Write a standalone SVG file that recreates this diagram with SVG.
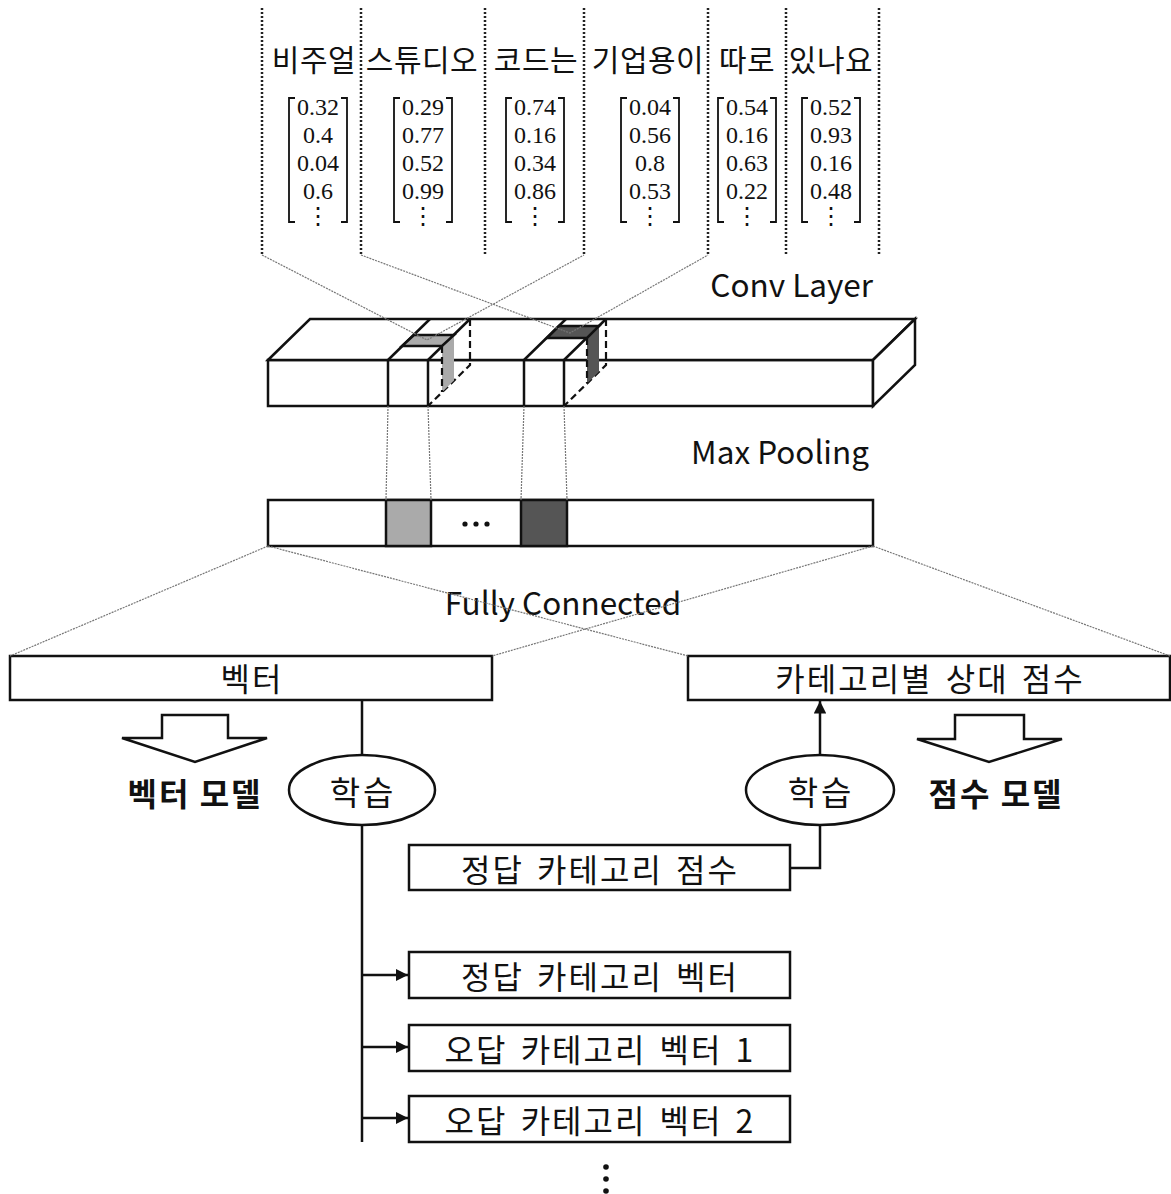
<svg xmlns="http://www.w3.org/2000/svg" width="1171" height="1194" viewBox="0 0 1171 1194">
<style>
.t{font-family:"Noto Sans CJK KR","Noto Sans",sans-serif;fill:#111}
.k{font-family:"Noto Sans CJK KR","Noto Sans",sans-serif;fill:#111;font-size:32px;letter-spacing:2px;word-spacing:4px;text-anchor:middle}
.e{font-family:"Noto Sans CJK KR","Noto Sans",sans-serif;fill:#111;font-size:31.5px}
.w{font-family:"Noto Sans CJK KR","Noto Sans",sans-serif;fill:#111;font-size:30px;letter-spacing:0.5px;text-anchor:middle}
.n{font-family:"Liberation Serif","DejaVu Serif",serif;font-size:24px;fill:#111;text-anchor:middle}
.box{fill:#fff;stroke:#111;stroke-width:2.5}
.ln{fill:none;stroke:#111;stroke-width:2.5}
.dash{fill:none;stroke:#111;stroke-width:2.2;stroke-dasharray:7 4}
.vdot{fill:none;stroke:#222;stroke-width:2.5;stroke-dasharray:2 2}
.thin{fill:none;stroke:#777;stroke-width:1.2;stroke-dasharray:2 1}
.br{fill:none;stroke:#111;stroke-width:1.8}
</style>
<defs>
<marker id="ah" viewBox="0 0 10 10" refX="10" refY="5" markerWidth="5" markerHeight="5" orient="auto"><path d="M0,0 L10,5 L0,10 z" fill="#111"/></marker>
</defs>

<g id="words">
<text class="w" x="314" y="71">비주얼</text>
<text class="w" x="422" y="71">스튜디오</text>
<text class="w" x="536" y="71">코드는</text>
<text class="w" x="648" y="71">기업용이</text>
<text class="w" x="747" y="71">따로</text>
<text class="w" x="831" y="71">있나요</text>
</g>

<g id="vectors">
<g transform="translate(318,0)">
<path class="br" d="M-23,98 H-29 V222 H-23 M23,98 H29 V222 H23"/>
<text class="n" x="0" y="115">0.32</text><text class="n" x="0" y="143">0.4</text><text class="n" x="0" y="171">0.04</text><text class="n" x="0" y="199">0.6</text><text class="n" x="0" y="224">⋮</text>
</g>
<g transform="translate(423,0)">
<path class="br" d="M-23,98 H-29 V222 H-23 M23,98 H29 V222 H23"/>
<text class="n" x="0" y="115">0.29</text><text class="n" x="0" y="143">0.77</text><text class="n" x="0" y="171">0.52</text><text class="n" x="0" y="199">0.99</text><text class="n" x="0" y="224">⋮</text>
</g>
<g transform="translate(535,0)">
<path class="br" d="M-23,98 H-29 V222 H-23 M23,98 H29 V222 H23"/>
<text class="n" x="0" y="115">0.74</text><text class="n" x="0" y="143">0.16</text><text class="n" x="0" y="171">0.34</text><text class="n" x="0" y="199">0.86</text><text class="n" x="0" y="224">⋮</text>
</g>
<g transform="translate(650,0)">
<path class="br" d="M-23,98 H-29 V222 H-23 M23,98 H29 V222 H23"/>
<text class="n" x="0" y="115">0.04</text><text class="n" x="0" y="143">0.56</text><text class="n" x="0" y="171">0.8</text><text class="n" x="0" y="199">0.53</text><text class="n" x="0" y="224">⋮</text>
</g>
<g transform="translate(747,0)">
<path class="br" d="M-23,98 H-29 V222 H-23 M23,98 H29 V222 H23"/>
<text class="n" x="0" y="115">0.54</text><text class="n" x="0" y="143">0.16</text><text class="n" x="0" y="171">0.63</text><text class="n" x="0" y="199">0.22</text><text class="n" x="0" y="224">⋮</text>
</g>
<g transform="translate(831,0)">
<path class="br" d="M-23,98 H-29 V222 H-23 M23,98 H29 V222 H23"/>
<text class="n" x="0" y="115">0.52</text><text class="n" x="0" y="143">0.93</text><text class="n" x="0" y="171">0.16</text><text class="n" x="0" y="199">0.48</text><text class="n" x="0" y="224">⋮</text>
</g>
</g>

<g id="separators">
<path class="vdot" d="M262,8 V255 M361,8 V255 M485,8 V255 M584,8 V255 M708,8 V255 M786,8 V255 M879,8 V255"/>
</g>

<g id="conv-layer">
<rect class="box" x="268" y="360" width="605" height="46"/>
<polygon class="box" points="268,360 310,319 915,319 873,360"/>
<polygon class="box" points="873,360 915,319 915,365 873,406"/>
<path class="ln" d="M388,360 V406 M428,360 V406 M524,360 V406 M564,360 V406 M388,360 L430,319 M428,360 L470,319 M524,360 L566,319 M564,360 L606,319"/>
<path class="dash" d="M470,319 V365 L428,406 M606,319 V365 L564,406"/>
<polygon points="442,346 454,335 454,380.6 442,392.3" fill="#aaa"/>
<path class="dash" d="M442,346 V392"/>
<polygon points="402,346 442,346 454,335 414,335" fill="#aaa" stroke="#111" stroke-width="2.5"/>
<polygon points="587,338 599,326 599,371.8 587,383.5" fill="#555"/>
<path class="dash" d="M587,338 V383"/>
<polygon points="547,338 587,338 599,326 559,326" fill="#555" stroke="#111" stroke-width="2.5"/>
<text class="e" x="873" y="297" text-anchor="end">Conv Layer</text>
</g>

<g id="max-pooling">
<rect class="box" x="268" y="500" width="605" height="46"/>
<rect x="386" y="500" width="45" height="46" fill="#aaa" stroke="#111" stroke-width="2.5"/>
<rect x="521" y="500" width="46" height="46" fill="#555" stroke="#111" stroke-width="2.5"/>
<circle cx="465" cy="524" r="2.6" fill="#111"/><circle cx="476" cy="524" r="2.6" fill="#111"/><circle cx="487" cy="524" r="2.6" fill="#111"/>
<text class="e" x="869" y="464" text-anchor="end">Max Pooling</text>
</g>

<g id="vector-box">
<rect class="box" x="10" y="656" width="482" height="44"/>
<text class="k" x="252" y="691">벡터</text>
</g>
<g id="score-box">
<rect class="box" x="688" y="656" width="482" height="44"/>
<text class="k" x="930" y="691">카테고리별 상대 점수</text>
</g>

<g id="vector-model">
<polygon class="box" points="162,715 228,715 228,738 267,738 195,762 122,738 162,738"/>
<text class="t" x="195" y="806" font-size="32" font-weight="bold" letter-spacing="2" text-anchor="middle">벡터 모델</text>
</g>
<g id="score-model">
<polygon class="box" points="955,715 1024,715 1024,739 1062,739 989,762 917,739 955,739"/>
<text class="t" x="996" y="806" font-size="32" font-weight="bold" letter-spacing="2" text-anchor="middle">점수 모델</text>
</g>

<g id="learn-left">
<ellipse class="box" cx="362" cy="790" rx="73" ry="35"/>
<text class="t" x="363" y="805" font-size="33" letter-spacing="3" text-anchor="middle">학습</text>
</g>
<g id="learn-right">
<ellipse class="box" cx="820" cy="790" rx="74" ry="35"/>
<text class="t" x="821" y="805" font-size="33" letter-spacing="3" text-anchor="middle">학습</text>
</g>

<g id="answer-score">
<rect class="box" x="409" y="845" width="381" height="45"/>
<text class="k" x="600" y="882">정답 카테고리 점수</text>
</g>
<g id="answer-vector">
<rect class="box" x="409" y="952" width="381" height="46"/>
<text class="k" x="600" y="989">정답 카테고리 벡터</text>
</g>
<g id="wrong-vector-1">
<rect class="box" x="409" y="1025" width="381" height="46"/>
<text class="k" x="600" y="1062">오답 카테고리 벡터 1</text>
</g>
<g id="wrong-vector-2">
<rect class="box" x="409" y="1096" width="381" height="46"/>
<text class="k" x="600" y="1133">오답 카테고리 벡터 2</text>
</g>
<g id="more">
<circle cx="606" cy="1167" r="2.8" fill="#111"/><circle cx="606" cy="1179" r="2.8" fill="#111"/><circle cx="606" cy="1191" r="2.8" fill="#111"/>
</g>

<g id="fc-label">
<text class="e" x="563" y="615" text-anchor="middle">Fully Connected</text>
</g>

<g id="connectors">
<path class="thin" d="M262,255 L427,340 L584,255 M361,255 L570,333 L708,255"/>
<path class="thin" d="M388,406 L386,500 M428,406 L431,500 M524,406 L521,500 M564,406 L567,500"/>
<path class="thin" d="M268,546 L10,656 M268,546 L688,656 M873,546 L492,656 M873,546 L1170,656"/>
<path class="ln" d="M362,700 V755 M362,825 V1142"/>
<path class="ln" marker-end="url(#ah)" d="M362,975 H408"/>
<path class="ln" marker-end="url(#ah)" d="M362,1047 H408"/>
<path class="ln" marker-end="url(#ah)" d="M362,1118 H408"/>
<path class="ln" d="M790,868 H820 V825"/>
<path class="ln" marker-end="url(#ah)" d="M820,755 V701"/>
</g>
</svg>
